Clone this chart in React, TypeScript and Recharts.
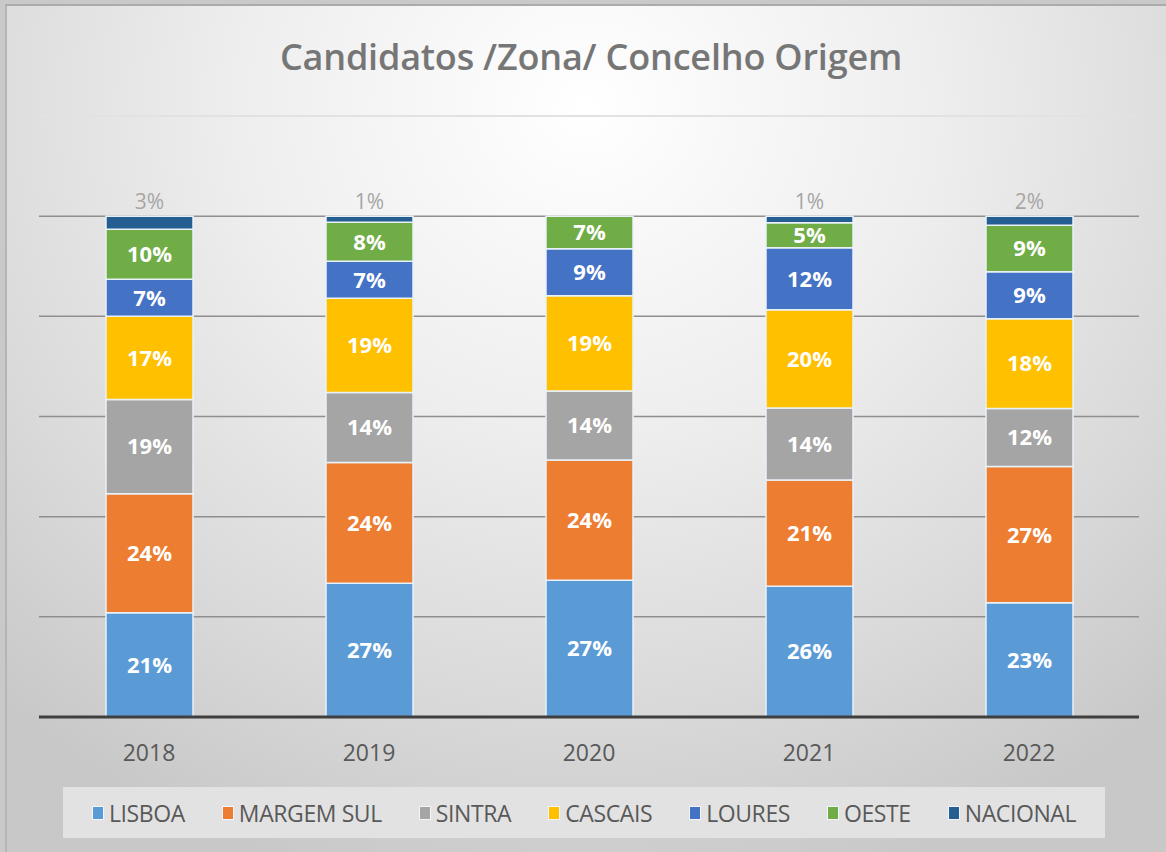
import React from "react";
import {
  BarChart,
  Bar,
  XAxis,
  YAxis,
  CartesianGrid,
  LabelList,
  ReferenceLine,
} from "recharts";

const years = ["2018", "2019", "2020", "2021", "2022"];

// shares per year (percent)
const lisboa = [20.8, 26.7, 27.3, 26.1, 22.8];
const margemSul = [23.8, 24.1, 24.0, 21.2, 27.2];
const sintra = [18.8, 14.0, 13.8, 14.4, 11.6];
const cascais = [16.6, 18.8, 19.0, 19.6, 17.9];
const loures = [7.4, 7.4, 9.4, 12.4, 9.4];
const oeste = [10.0, 7.8, 6.5, 5.0, 9.3];
const nacional = [2.6, 1.2, 0.0, 1.3, 1.8];

const series = [
  { key: "lisboa", name: "LISBOA", color: "#5b9bd5", values: lisboa },
  { key: "margemSul", name: "MARGEM SUL", color: "#ed7d31", values: margemSul },
  { key: "sintra", name: "SINTRA", color: "#a5a5a5", values: sintra },
  { key: "cascais", name: "CASCAIS", color: "#ffc000", values: cascais },
  { key: "loures", name: "LOURES", color: "#4472c4", values: loures },
  { key: "oeste", name: "OESTE", color: "#70ad47", values: oeste },
  { key: "nacional", name: "NACIONAL", color: "#255e91", values: nacional },
];

const yTicks = [0, 20, 40, 60, 80, 100, 120];

const data = years.map((year, i) => {
  const row: { [k: string]: string | number } = { year };
  series.forEach((s) => {
    row[s.key] = s.values[i];
  });
  return row;
});

const FONT = "'Open Sans', sans-serif";

const pct = (v: any) => `${Math.round(Number(v))}%`;

// label above the top (NACIONAL) segment
function TopLabel(props: any) {
  const { x, y, width, value } = props;
  const v = Math.round(Number(value));
  return (
    <text
      x={x + width / 2}
      y={y - 7}
      textAnchor="middle"
      fontFamily={FONT}
      fontSize={21}
      fill={v === 0 ? "#ffffff" : "#a6a6a6"}
    >
      {v}%
    </text>
  );
}

export default function App() {
  return (
    <div
      style={{
        position: "absolute",
        left: 0,
        top: 0,
        width: 1166,
        height: 852,
        overflow: "hidden",
        background: "#c9c9c9",
      }}
    >
      <div
        style={{
          position: "absolute",
          left: 5,
          top: 4,
          width: 1161,
          height: 848,
          borderTop: "2px solid #ababab",
          borderLeft: "2px solid #b5b5b5",
          boxSizing: "border-box",
          background:
            "radial-gradient(ellipse 75% 95% at 50% 12%, #ffffff 0%, #eeeeee 40%, #d9d9d9 75%, #c8c8c8 100%)",
        }}
      />
      <div
        style={{
          position: "absolute",
          left: 0,
          top: 32,
          width: 1182,
          textAlign: "center",
          fontFamily: FONT,
          fontWeight: 600,
          fontSize: 36,
          letterSpacing: -0.2,
          color: "#767676",
        }}
      >
        Candidatos /Zona/ Concelho Origem
      </div>
      <div style={{ position: "absolute", left: 0, top: 0 }}>
        <BarChart
          width={1166}
          height={852}
          data={data}
          barSize={87}
          margin={{ top: 116, right: 27, bottom: 95, left: 39 }}
        >
          <CartesianGrid vertical={false} stroke="#8f8f8f" strokeWidth={1.5} />
          <ReferenceLine y={120} stroke="#e2e2e2" strokeWidth={2} />
          <XAxis
            dataKey="year"
            axisLine={{ stroke: "#3f3f3f", strokeWidth: 3 }}
            tickLine={false}
            tick={{ fill: "#595959", fontSize: 23, fontFamily: FONT }}
            dy={20}
            height={40}
          />
          <YAxis hide domain={[0, 120]} ticks={yTicks} width={0} />
          {series.map((s, idx) => (
            <Bar
              key={s.key}
              dataKey={s.key}
              name={s.name}
              stackId="a"
              fill={s.color}
              stroke="#e9f1f8"
              strokeWidth={1.5}
              isAnimationActive={false}
            >
              {idx < series.length - 1 ? (
                <LabelList
                  dataKey={s.key}
                  position="center"
                  formatter={pct}
                  fill="#ffffff"
                  fontFamily={FONT}
                  fontWeight={700}
                  fontSize={22}
                />
              ) : (
                <LabelList dataKey={s.key} content={<TopLabel />} />
              )}
            </Bar>
          ))}
        </BarChart>
      </div>
      <div
        style={{
          position: "absolute",
          left: 63,
          top: 787,
          width: 1042,
          height: 51,
          background: "#e2e2e2",
          display: "flex",
          alignItems: "center",
          justifyContent: "center",
          gap: 37,
          fontFamily: FONT,
          fontSize: 23,
          letterSpacing: -0.4,
          color: "#595959",
        }}
      >
        {series.map((s) => (
          <div key={s.key} style={{ display: "flex", alignItems: "center" }}>
            <span
              style={{
                display: "inline-block",
                width: 10,
                height: 12,
                background: s.color,
                border: "1px solid #f2f6fa",
                marginRight: 5,
              }}
            />
            {s.name}
          </div>
        ))}
      </div>
    </div>
  );
}
